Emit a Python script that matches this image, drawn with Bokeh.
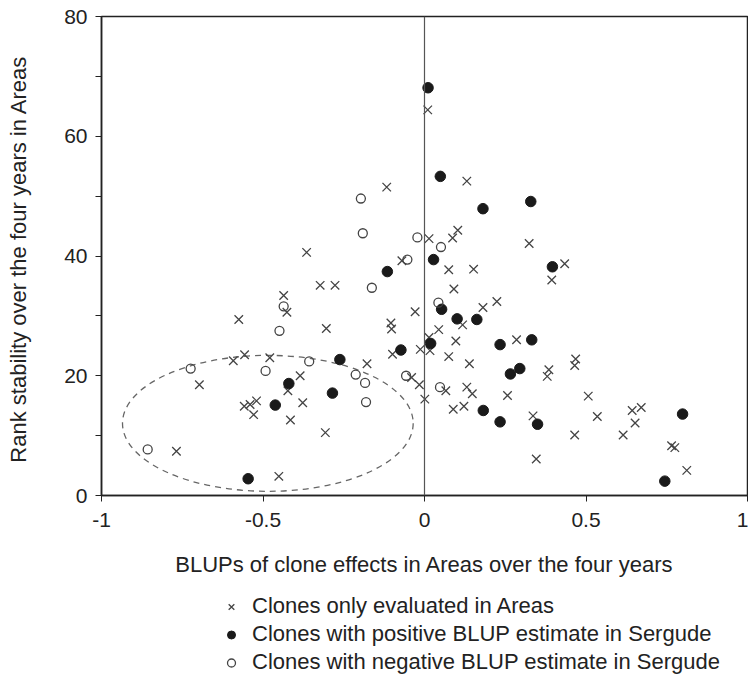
from bokeh.plotting import figure
from bokeh.models import Range1d, FixedTicker, Span, Legend, LegendItem
from bokeh.layouts import column
from bokeh.embed import file_html
from bokeh.resources import INLINE

# Clones only evaluated in Areas (crosses)
areas_x = [0.010, -0.117, 0.131, 0.014, 0.087, 0.103, 0.324, 0.434, 0.394, -0.365,
           -0.323, -0.277, -0.436, -0.426, -0.575, -0.304, -0.592, -0.557, -0.479, -0.178,
           -0.385, -0.697, -0.423, -0.558, -0.540, -0.520, -0.529, -0.377, -0.415, -0.307,
           -0.768, -0.451, -0.070, 0.075, 0.152, 0.091, -0.029, -0.104, -0.102, 0.181,
           0.224, 0.118, 0.044, 0.014, -0.013, 0.017, 0.097, -0.099, 0.075, 0.285,
           0.139, -0.040, -0.016, 0.066, 0.131, 0.148, 0.257, 0.001, 0.089, 0.122,
           0.336, 0.507, 0.535, 0.465, 0.346, 0.643, 0.671, 0.652, 0.615, 0.765,
           0.775, 0.812, 0.385, 0.380, 0.468, 0.465]
areas_y = [64.4, 51.5, 52.5, 42.9, 43.0, 44.3, 42.1, 38.7, 36.0, 40.6,
           35.1, 35.1, 33.4, 30.6, 29.4, 27.9, 22.5, 23.5, 23.0, 22.0,
           20.0, 18.5, 17.5, 14.9, 15.2, 15.8, 13.5, 15.5, 12.6, 10.5,
           7.4, 3.2, 39.2, 37.7, 37.8, 34.5, 30.7, 28.8, 27.8, 31.4,
           32.4, 28.5, 27.7, 26.4, 24.4, 24.2, 25.8, 23.6, 23.2, 26.0,
           22.0, 19.7, 18.5, 17.5, 18.1, 17.0, 16.7, 16.1, 14.4, 14.9,
           13.3, 16.6, 13.2, 10.1, 6.1, 14.2, 14.7, 12.1, 10.1, 8.3,
           8.0, 4.2, 21.0, 19.9, 22.8, 21.7]

# Clones with positive BLUP estimate in Sergude (filled circles)
pos_x = [0.011, 0.049, 0.181, 0.329, 0.396, -0.115, 0.028, 0.053, 0.101, 0.162,
         -0.073, 0.019, 0.234, 0.332, 0.266, 0.295, 0.182, 0.234, 0.350, 0.799,
         0.744, -0.262, -0.420, -0.462, -0.285, -0.546]
pos_y = [68.1, 53.3, 47.9, 49.1, 38.2, 37.4, 39.4, 31.1, 29.5, 29.4,
         24.3, 25.4, 25.2, 26.0, 20.3, 21.2, 14.2, 12.3, 11.9, 13.6,
         2.4, 22.7, 18.7, 15.1, 17.1, 2.8]

# Clones with negative BLUP estimate in Sergude (open circles)
neg_x = [-0.197, -0.191, -0.022, 0.051, -0.053, -0.163, -0.436, -0.449, -0.724, -0.492,
         -0.357, -0.213, -0.184, -0.181, -0.857, -0.057, 0.043, 0.048]
neg_y = [49.6, 43.8, 43.1, 41.5, 39.4, 34.7, 31.6, 27.5, 21.2, 20.8,
         22.4, 20.2, 18.8, 15.6, 7.7, 20.0, 32.2, 18.1]

x_ticks = [-1, -0.5, 0, 0.5, 1]
x_tick_labels = ["-1", "-0.5", "0", "0.5", "1"]
y_ticks = [0, 20, 40, 60, 80]
y_minor_ticks = [10, 30, 50, 70]

x_title = "BLUPs of clone effects in Areas over the four years"
y_title = "Rank stability over the four  years in Areas"
legend_labels = ["Clones only evaluated in Areas",
                 "Clones with positive BLUP estimate in Sergude",
                 "Clones with negative BLUP estimate in Sergude"]

# dashed ellipse (group outline)
ell_cx, ell_cy, ell_w, ell_h = -0.485, 12.05, 0.90, 22.7

FONT = "Liberation Sans"
TXT = "#222222"

X_STYLE = dict(marker="x", size=12, line_color="#444444", line_width=1.3)
POS_STYLE = dict(marker="circle", size=10.5, fill_color="#1a1a1a", line_color="#1a1a1a")
NEG_STYLE = dict(marker="circle", size=9, fill_color=None, line_color="#444444", line_width=1.3)

p = figure(width=748, height=590, x_range=Range1d(-1, 1), y_range=Range1d(0, 80),
           output_backend="svg", toolbar_location=None,
           min_border_left=101, min_border_right=1, min_border_top=16, min_border_bottom=95)
p.grid.visible = False
p.outline_line_color = "#222222"
p.outline_line_width = 1.5

xa = p.xaxis[0]
xa.ticker = FixedTicker(ticks=x_ticks, minor_ticks=[])
xa.major_label_overrides = {float(t): l for t, l in zip(x_ticks, x_tick_labels)}
xa.axis_label = x_title
ya = p.yaxis[0]
ya.ticker = FixedTicker(ticks=y_ticks, minor_ticks=y_minor_ticks)
ya.axis_label = y_title

for ax in (xa, ya):
    ax.axis_line_color = "#222222"
    ax.axis_line_width = 1.5
    ax.major_tick_line_color = "#222222"
    ax.minor_tick_line_color = "#222222"
    ax.major_tick_in = 0
    ax.major_tick_out = 6
    ax.minor_tick_in = 0
    ax.minor_tick_out = 6
    ax.major_label_text_font = FONT
    ax.major_label_text_font_size = "21px"
    ax.major_label_text_color = TXT
    ax.axis_label_text_font = FONT
    ax.axis_label_text_font_size = "22px"
    ax.axis_label_text_font_style = "normal"
    ax.axis_label_text_color = TXT

xa.major_label_standoff = 11
xa.axis_label_standoff = 22
ya.major_label_standoff = 8
ya.axis_label_standoff = 30

p.add_layout(Span(location=0, dimension="height", line_color="#555555", line_width=1.2))

p.ellipse(x=ell_cx, y=ell_cy, width=ell_w, height=ell_h, fill_color=None,
          line_color="#666666", line_width=1.3, line_dash="6 5")

p.scatter(areas_x, areas_y, **X_STYLE)
p.scatter(pos_x, pos_y, **POS_STYLE)
p.scatter(neg_x, neg_y, **NEG_STYLE)

# legend strip below the chart: same series, ranges chosen so only the legend shows
q = figure(width=748, height=86, x_range=Range1d(-1, 1), y_range=Range1d(-2, -1),
           output_backend="svg", toolbar_location=None,
           x_axis_location=None, y_axis_location=None,
           min_border_left=0, min_border_right=0, min_border_top=0, min_border_bottom=0)
q.grid.visible = False
q.outline_line_color = None
lx = q.scatter(areas_x, areas_y, **X_STYLE)
lp = q.scatter(pos_x, pos_y, **POS_STYLE)
ln = q.scatter(neg_x, neg_y, **NEG_STYLE)

legend = Legend(items=[LegendItem(label=legend_labels[0], renderers=[lx]),
                       LegendItem(label=legend_labels[1], renderers=[lp]),
                       LegendItem(label=legend_labels[2], renderers=[ln])],
                location=(120, 1), orientation="vertical",
                margin=0, padding=0, spacing=2, glyph_width=20, glyph_height=25,
                label_height=25, label_standoff=11,
                label_text_font=FONT, label_text_font_size="22px", label_text_color=TXT,
                border_line_color=None, background_fill_alpha=0)
q.add_layout(legend, "center")

layout = column(p, q, spacing=0)
open("out.html", "w").write(file_html(layout, INLINE))
